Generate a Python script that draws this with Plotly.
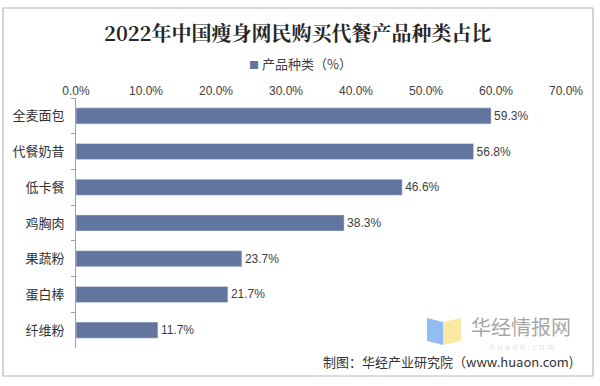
import plotly.graph_objects as go

categories = ["全麦面包", "代餐奶昔", "低卡餐", "鸡胸肉", "果蔬粉", "蛋白棒", "纤维粉"]
values = [59.3, 56.8, 46.6, 38.3, 23.7, 21.7, 11.7]
series_name = "产品种类（%）"
title_text = "2022年中国瘦身网民购买代餐产品种类占比"
source_text = "制图：华经产业研究院（www.huaon.com)"
bar_color = "#62759F"

W, H = 600, 386
L, R, T, B = 76, 566, 98, 348  # plot area pixels


def px(x):
    return (x - L) / (R - L)


def py(y):
    return (B - y) / (B - T)


fig = go.Figure()
fig.add_trace(go.Bar(
    x=values, y=categories, orientation="h", name=series_name,
    marker=dict(color=bar_color),
    text=values, texttemplate="%{x:.1f}%", textposition="outside",
    textfont=dict(size=12, color="#404040", family="Liberation Sans, Arial"),
    cliponaxis=False, showlegend=False,
))

shapes = [
    dict(type="rect", xref="paper", yref="paper",
         x0=px(3), x1=px(593), y0=py(8), y1=py(376),
         line=dict(color="#B8B8B8", width=1.2), fillcolor="rgba(0,0,0,0)", layer="below"),
    # watermark logo
    dict(type="path", xref="paper", yref="paper",
         path=f"M {px(427)} {py(318)} L {px(443)} {py(322)} L {px(443)} {py(345)} L {px(427)} {py(341)} Z",
         fillcolor="rgba(110,165,240,0.75)", line=dict(width=0), layer="above"),
    dict(type="path", xref="paper", yref="paper",
         path=f"M {px(443)} {py(322)} L {px(461)} {py(318)} L {px(461)} {py(341)} L {px(443)} {py(345)} Z",
         fillcolor="rgba(248,228,140,0.8)", line=dict(width=0), layer="above"),
]

annotations = [
    dict(text="<b>" + title_text + "</b>", xref="paper", yref="paper", x=px(298), y=py(32),
         showarrow=False, xanchor="center", yanchor="middle",
         font=dict(size=20, color="#262626", family="Noto Serif CJK SC, Noto Sans CJK SC")),
    dict(text=f"<span style='color:{bar_color};font-size:10px'>■</span> " + series_name,
         xref="paper", yref="paper", x=px(300), y=py(63),
         showarrow=False, xanchor="center", yanchor="middle",
         font=dict(size=13, color="#404040", family="Noto Sans CJK SC")),
    dict(text="华经情报网", xref="paper", yref="paper", x=px(521), y=py(326),
         showarrow=False, xanchor="center", yanchor="middle",
         font=dict(size=20, color="rgba(150,150,150,0.85)", family="Noto Sans CJK SC")),
    dict(text="h u a o n . c o m", xref="paper", yref="paper", x=px(522), y=py(346.5),
         showarrow=False, xanchor="center", yanchor="middle",
         font=dict(size=9, color="rgba(200,200,200,0.55)", family="Liberation Sans")),
    dict(text=source_text, xref="paper", yref="paper", x=px(575), y=py(361),
         showarrow=False, xanchor="right", yanchor="middle",
         font=dict(size=13, color="#333333", family="Noto Sans CJK SC")),
]

fig.update_layout(
    width=W, height=H,
    margin=dict(l=L, r=W - R, t=T, b=H - B, autoexpand=False),
    paper_bgcolor="white", plot_bgcolor="white",
    bargap=0.55,
    showlegend=False,
    font=dict(family="Noto Sans CJK SC", color="#404040"),
    shapes=shapes,
    annotations=annotations,
    xaxis=dict(side="top", range=[0, 70], dtick=10, tickformat=".1f", ticksuffix="%",
               showgrid=False, zeroline=False, showline=False, ticks="", automargin=False,
               tickfont=dict(size=12, color="#404040", family="Liberation Sans, Arial")),
    yaxis=dict(autorange="reversed", showline=True, linecolor="#A0A0A0", linewidth=1,
               ticks="outside", tickson="boundaries", ticklen=4, tickcolor="#A0A0A0",
               showgrid=False, zeroline=False, ticklabelstandoff=8, automargin=False,
               tickfont=dict(size=13, color="#333333", family="Noto Sans CJK SC")),
)

fig.write_html("out.html", config={"displayModeBar": False},
               post_script="document.body.style.margin='0px';")
